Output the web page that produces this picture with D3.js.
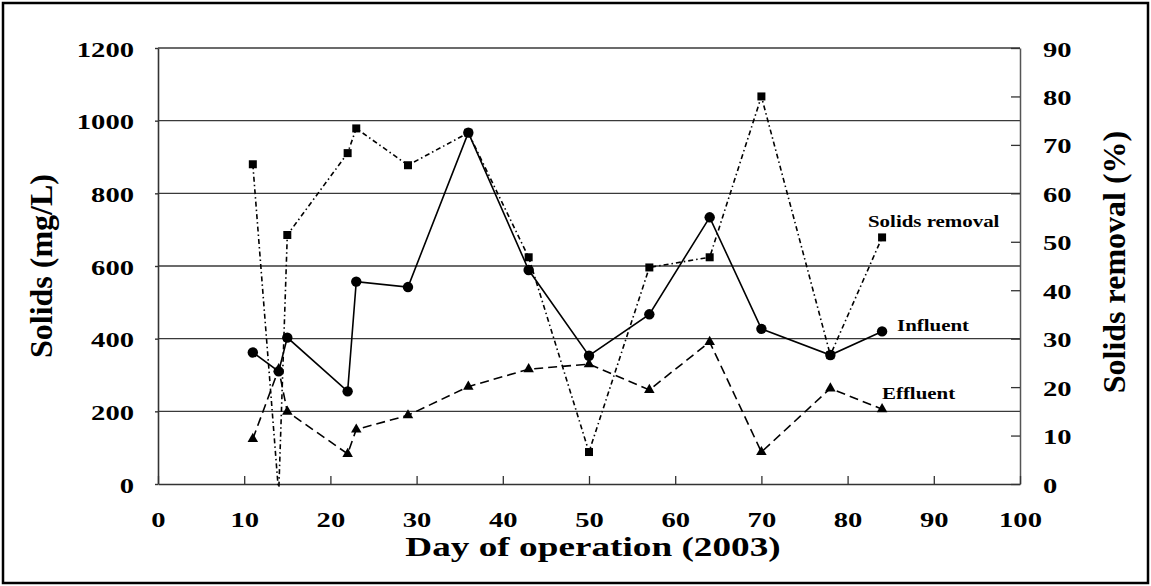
<!DOCTYPE html>
<html>
<head>
<meta charset="utf-8">
<script src="https://cdn.jsdelivr.net/npm/d3@7"></script>
<style>
  html, body { margin: 0; padding: 0; background: #fff; }
  svg { display: block; }
  text { font-family: "Liberation Serif", "Times New Roman", serif; font-weight: bold; fill: #000; }
</style>
</head>
<body>
<svg id="chart" width="1151" height="586"></svg>
<script>
// Sampling days (2003)
const days = [11, 14, 15, 22, 23, 29, 36, 43, 50, 57, 64, 70, 78, 84];
// Influent and effluent solids, mg/L
const influent = [362, 310, 403, 255, 557, 542, 967, 589, 353, 467, 734, 427, 355, 420];
const effluent = [124, 316, 199, 83, 150, 189, 268, 316, 330, 259, 391, 88, 263, 206];
// Solids removal, %
const removal = [66.0, -2.0, 51.4, 68.3, 73.4, 65.8, 72.5, 46.8, 6.6, 44.7, 46.8, 80.0, 26.6, 50.9];

const xTicks = [0, 10, 20, 30, 40, 50, 60, 70, 80, 90, 100];
const leftTicks = [0, 200, 400, 600, 800, 1000, 1200];
const rightTicks = [0, 10, 20, 30, 40, 50, 60, 70, 80, 90];

const W = 1151, H = 586;
const plot = { left: 158, right: 1020, top: 48, bottom: 484 };
const textStretch = 1.3;

const svg = d3.select("#chart");

svg.append("rect").attr("width", W).attr("height", H).attr("fill", "#fff");
// outer frame
svg.append("rect")
  .attr("x", 3).attr("y", 3).attr("width", W - 6).attr("height", H - 6)
  .attr("fill", "none").attr("stroke", "#000").attr("stroke-width", 2.5);

const x = d3.scaleLinear().domain([0, 100]).range([plot.left, plot.right]);
const yL = d3.scaleLinear().domain([0, 1200]).range([plot.bottom, plot.top]);
const yR = d3.scaleLinear().domain([0, 90]).range([plot.bottom, plot.top]);

// horizontal gridlines on the solids axis
svg.append("g").selectAll("line").data(leftTicks.filter(d => d > 0)).join("line")
  .attr("x1", plot.left).attr("x2", plot.right)
  .attr("y1", d => yL(d)).attr("y2", d => yL(d))
  .attr("stroke", "#3a3a3a").attr("stroke-width", 1.4);

// left axis
const gL = svg.append("g").attr("transform", `translate(${plot.left},0)`)
  .call(d3.axisLeft(yL).tickValues(leftTicks).tickSizeInner(3).tickSizeOuter(0).tickFormat(d3.format("d")));
gL.select(".domain").attr("stroke", "#333").attr("stroke-width", 1.6);
gL.selectAll(".tick line").attr("stroke", "#333").attr("stroke-width", 1.4);
gL.selectAll(".tick text")
  .attr("x", 0).attr("y", 0).attr("dy", null)
  .attr("text-anchor", "end")
  .attr("transform", `translate(-24,8) scale(${textStretch},1)`)
  .style("font-size", "22px");
gL.attr("font-size", null).attr("font-family", null);

// right axis (ticks point inward)
const gR = svg.append("g").attr("transform", `translate(${plot.right},0)`)
  .call(d3.axisRight(yR).tickValues(rightTicks).tickSizeInner(-9).tickSizeOuter(0).tickFormat(d3.format("d")));
gR.select(".domain").attr("stroke", "#555").attr("stroke-width", 1.5);
gR.selectAll(".tick line").attr("stroke", "#333").attr("stroke-width", 1.3);
gR.selectAll(".tick text")
  .attr("x", 0).attr("y", 0).attr("dy", null)
  .attr("text-anchor", "start")
  .attr("transform", `translate(23,8) scale(${textStretch},1)`)
  .style("font-size", "22px");
gR.attr("font-size", null).attr("font-family", null);

// bottom axis (ticks point inward)
const gX = svg.append("g").attr("transform", `translate(0,${plot.bottom})`)
  .call(d3.axisBottom(x).tickValues(xTicks).tickSizeInner(-8).tickSizeOuter(0).tickFormat(d3.format("d")));
gX.select(".domain").attr("stroke", "#333").attr("stroke-width", 1.6);
gX.selectAll(".tick line").attr("stroke", "#333").attr("stroke-width", 1.3);
gX.selectAll(".tick text")
  .attr("x", 0).attr("y", 0).attr("dy", null)
  .attr("text-anchor", "middle")
  .attr("transform", `translate(0,43) scale(${textStretch},1)`)
  .style("font-size", "22px");
gX.attr("font-size", null).attr("font-family", null);

// axis titles
svg.append("text")
  .attr("text-anchor", "middle")
  .attr("transform", `translate(${(plot.left + plot.right) / 2 + 4},556) scale(1.33,1)`)
  .style("font-size", "28px")
  .text("Day of operation (2003)");

svg.append("text")
  .attr("text-anchor", "middle")
  .attr("transform", `translate(52,266) rotate(-90)`)
  .style("font-size", "32px")
  .text("Solids (mg/L)");

svg.append("text")
  .attr("text-anchor", "middle")
  .attr("transform", `translate(1125,262) rotate(-90)`)
  .style("font-size", "32px")
  .text("Solids removal (%)");

// clip for the removal series, which dips just below the axis at day 14
svg.append("clipPath").attr("id", "plotClip")
  .append("rect")
  .attr("x", plot.left - 10).attr("y", plot.top - 10)
  .attr("width", plot.right - plot.left + 20).attr("height", plot.bottom + 3 - (plot.top - 10));

const removalPts = days.map((d, i) => [d, removal[i]]);
const inflPts = days.map((d, i) => [d, influent[i]]);
const efflPts = days.map((d, i) => [d, effluent[i]]);

const lineR = d3.line().x(d => x(d[0])).y(d => yR(d[1]));
const lineL = d3.line().x(d => x(d[0])).y(d => yL(d[1]));

// solids removal: dash-dot line with square markers
const gRem = svg.append("g").attr("clip-path", "url(#plotClip)");
gRem.append("path").datum(removalPts)
  .attr("d", lineR).attr("fill", "none")
  .attr("stroke", "#000").attr("stroke-width", 1.6)
  .attr("stroke-dasharray", "5,3,1.5,3");
gRem.selectAll("rect").data(removalPts).join("rect")
  .attr("x", d => x(d[0]) - 4).attr("y", d => yR(d[1]) - 4)
  .attr("width", 8).attr("height", 8).attr("fill", "#000");

// effluent: dashed line with triangle markers
svg.append("path").datum(efflPts)
  .attr("d", lineL).attr("fill", "none")
  .attr("stroke", "#000").attr("stroke-width", 1.6)
  .attr("stroke-dasharray", "9,5");
svg.append("g").selectAll("path").data(efflPts).join("path")
  .attr("d", d3.symbol(d3.symbolTriangle, 48))
  .attr("transform", d => `translate(${x(d[0])},${yL(d[1])})`)
  .attr("fill", "#000");

// influent: solid line with circle markers
svg.append("path").datum(inflPts)
  .attr("d", lineL).attr("fill", "none")
  .attr("stroke", "#000").attr("stroke-width", 1.6);
svg.append("g").selectAll("circle").data(inflPts).join("circle")
  .attr("cx", d => x(d[0])).attr("cy", d => yL(d[1]))
  .attr("r", 5.2).attr("fill", "#000");

// series labels
const seriesLabels = [
  { text: "Solids removal", x: 868, y: 227 },
  { text: "Influent", x: 897, y: 331 },
  { text: "Effluent", x: 882, y: 399 }
];
svg.append("g").selectAll("text").data(seriesLabels).join("text")
  .attr("text-anchor", "start")
  .attr("transform", d => `translate(${d.x},${d.y}) scale(1.23,1)`)
  .style("font-size", "17px")
  .text(d => d.text);
</script>
</body>
</html>
